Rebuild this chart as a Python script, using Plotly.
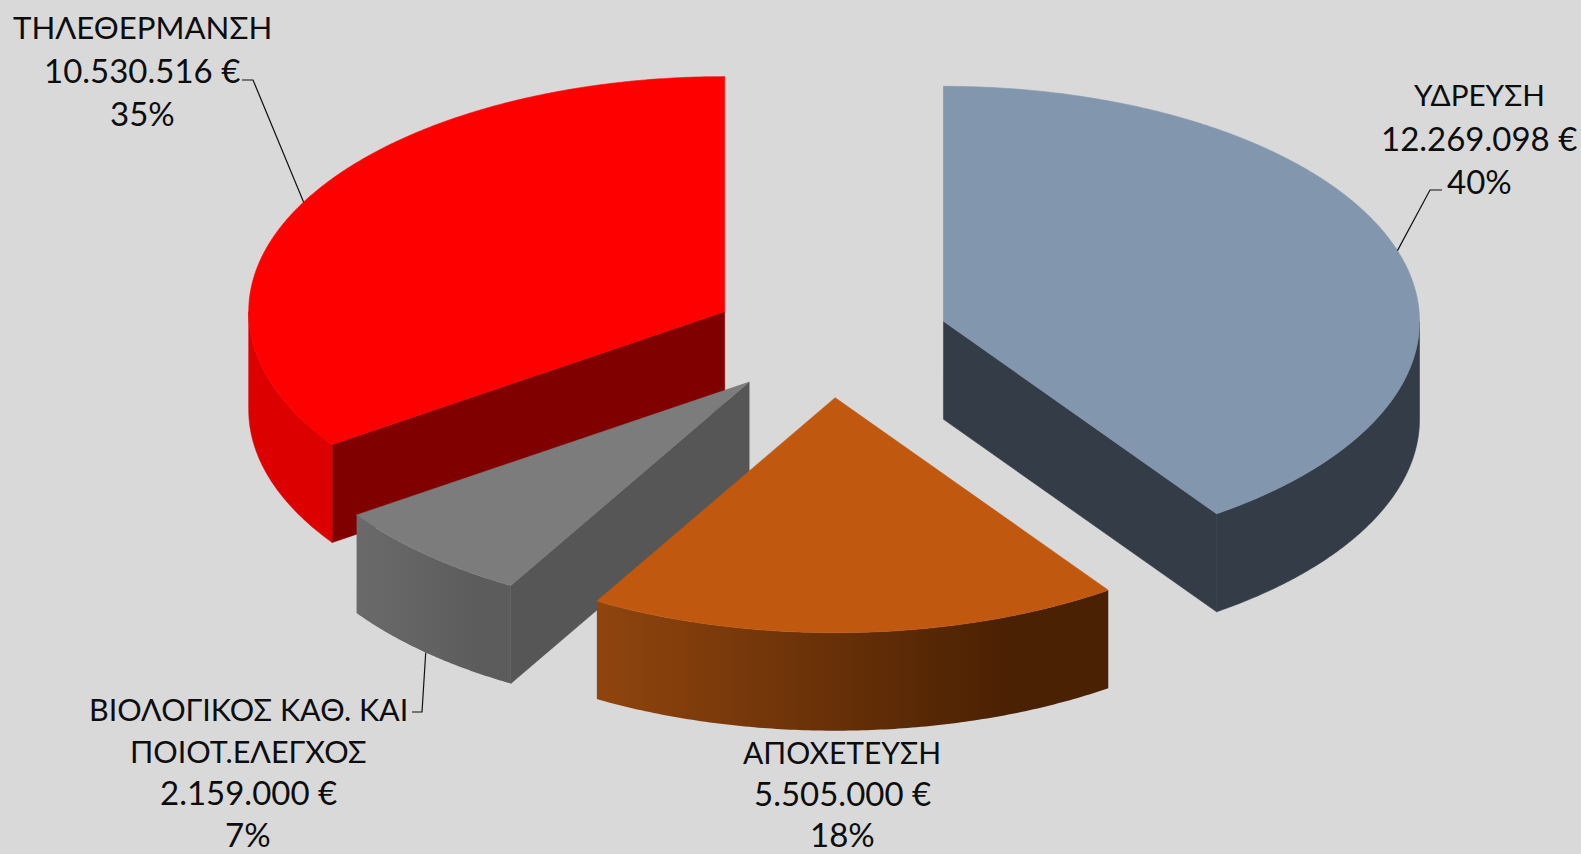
import numpy as np
import plotly.graph_objects as go

# ---- data -------------------------------------------------------------
names = ["ΥΔΡΕΥΣΗ", "ΑΠΟΧΕΤΕΥΣΗ", "ΒΙΟΛΟΓΙΚΟΣ ΚΑΘ. ΚΑΙ<br>ΠΟΙΟΤ.ΕΛΕΓΧΟΣ", "ΤΗΛΕΘΕΡΜΑΝΣΗ"]
values = [12269098, 5505000, 2159000, 10530516]
top_colors = ["#8296AE", "#C1580F", "#7C7C7C", "#FF0000"]
radial_colors = ["#343C47", "#4A2103", "#565656", "#800000"]
side_left = ["#343C47", "#90450E", "#6A6A6A", "#DC0000"]
side_right = ["#343C47", "#4A2103", "#5C5C5C", "#DC0000"]
draw_order = [3, 0, 2, 1]

# label placement: centre x, first-line y, line pitch, name font size
label_x = [1479, 842, 248, 142]
label_y = [94, 752, 709, 27]
label_pitch = [43.7, 41, 41.6, 43]
name_size = [29.7, 30, 30.5, 31.2]
# leader elbow: text-end x, elbow x, elbow y
leader = [(1442, 1430, 190), None, (412, 422, 712), (242, 253, 80)]

# ---- projection -------------------------------------------------------
W, H = 1581, 854
CX, CY = 830, 339
RX, RY = 476, 235
DEPTH = 98
EXPLODE = 0.25
FONT = "Lato, Noto Sans, sans-serif"
NUM_SIZE = 33
TXT = "#0d0d0d"

total = sum(values)
fractions = [v / total for v in values]
edges = np.concatenate([[0], np.cumsum(fractions)]) * 360


def rim(ax, ay, deg):
    r = np.radians(deg)
    return ax + RX * np.sin(r), ay - RY * np.cos(r)


fig = go.Figure()


def poly(x, y, color, left=None, right=None):
    kw = dict(
        x=list(x), y=list(y), mode="lines", fill="toself",
        line=dict(width=0.6, color=color, simplify=False), hoverinfo="skip", showlegend=False,
    )
    if left is not None and left != right:
        kw["fillgradient"] = dict(type="horizontal", colorscale=[[0, left], [0.8, right], [1, right]])
        kw["line"] = dict(width=0, simplify=False)
    else:
        kw["fillcolor"] = color
    fig.add_trace(go.Scatter(**kw))


apexes = {}
for i in draw_order:
    a0, a1 = edges[i], edges[i + 1]
    mid = (a0 + a1) / 2
    ax, ay = rim(CX, CY, mid)
    ax = CX + EXPLODE * (ax - CX)
    ay = CY + EXPLODE * (ay - CY)
    apexes[i] = (ax, ay)
    # radial cut faces that look toward the viewer
    if 180 < a0 < 360:
        rx0, ry0 = rim(ax, ay, a0)
        poly([ax, rx0, rx0, ax, ax], [ay, ry0, ry0 + DEPTH, ay + DEPTH, ay], radial_colors[i])
    if 0 < a1 < 180:
        rx1, ry1 = rim(ax, ay, a1)
        poly([ax, rx1, rx1, ax, ax], [ay, ry1, ry1 + DEPTH, ay + DEPTH, ay], radial_colors[i])
    # outer wall
    s0, s1 = max(a0, 90), min(a1, 270)
    if s1 > s0:
        t = np.linspace(s0, s1, 120)
        xs, ys = rim(ax, ay, t)
        px = np.concatenate([xs, xs[::-1], xs[:1]])
        py = np.concatenate([ys, ys[::-1] + DEPTH, ys[:1]])
        poly(px, py, side_left[i], side_left[i], side_right[i])
    # top face
    t = np.linspace(a0, a1, 300)
    xs, ys = rim(ax, ay, t)
    poly(np.concatenate([[ax], xs, [ax]]), np.concatenate([[ay], ys, [ay]]), top_colors[i])

# leader lines end on the rim at the middle of each slice
for i, lead in enumerate(leader):
    if lead is None:
        continue
    mid = (edges[i] + edges[i + 1]) / 2
    ex, ey = rim(*apexes[i], mid)
    if 90 < mid < 270:
        ey += DEPTH
    fig.add_trace(go.Scatter(
        x=[lead[0], lead[1], ex], y=[lead[2], lead[2], ey], mode="lines",
        line=dict(width=1.2, color="#111111"), hoverinfo="skip", showlegend=False,
    ))

# labels
for i in range(len(values)):
    money = f"{values[i]:,}".replace(",", ".") + " €"
    pct = f"{round(fractions[i] * 100)}%"
    name_lines = names[i].split("<br>")
    lines = name_lines + [money, pct]
    for k, line in enumerate(lines):
        y = label_y[i] + k * label_pitch[i]
        fig.add_annotation(
            x=label_x[i], y=y, text=line, showarrow=False,
            xanchor="center", yanchor="middle", borderpad=0,
            font=dict(family=FONT, size=name_size[i] if k < len(name_lines) else NUM_SIZE, color=TXT),
        )

fig.update_layout(
    width=W, height=H, margin=dict(l=0, r=0, t=0, b=0),
    paper_bgcolor="#D9D9D9", plot_bgcolor="#D9D9D9", showlegend=False,
    xaxis=dict(range=[0, W], visible=False, fixedrange=True),
    yaxis=dict(range=[H, 0], visible=False, fixedrange=True),
)
fig.write_html(
    "out.html",
    config={"displayModeBar": False},
    post_script="document.body.style.margin='0';document.body.style.overflow='hidden';"
    "document.body.style.background='#D9D9D9';",
)
